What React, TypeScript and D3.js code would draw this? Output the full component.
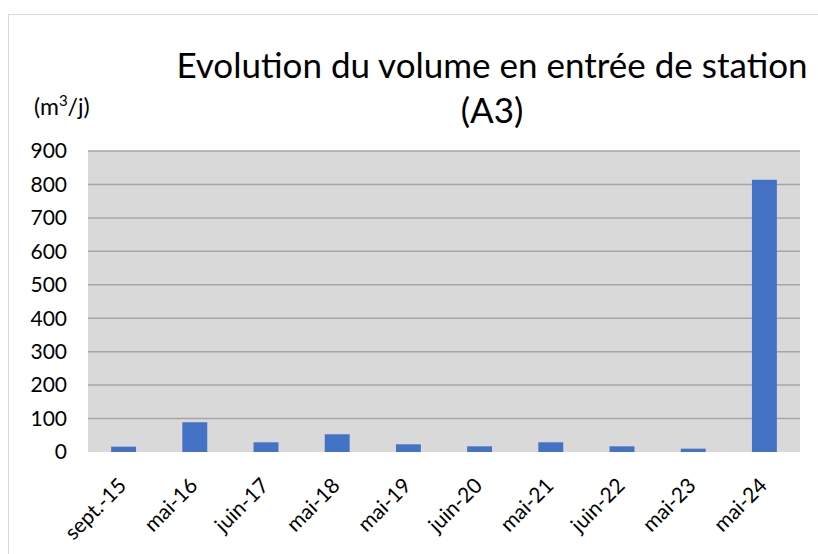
import * as d3 from "d3";

const categories = ["sept.-15", "mai-16", "juin-17", "mai-18", "mai-19", "juin-20", "mai-21", "juin-22", "mai-23", "mai-24"];
const volumes = [16, 89, 29, 53, 23, 17, 29, 17, 10, 814];
const yTicks = [0, 100, 200, 300, 400, 500, 600, 700, 800, 900];

const W = 818;
const H = 554;
const margin = { left: 88, right: 18, top: 151, bottom: 102 };
const FONT = "Lato, 'Open Sans', sans-serif";

export default function App() {
  const x = d3
    .scaleBand<string>()
    .domain(categories)
    .range([margin.left, W - margin.right])
    .paddingInner(0.65)
    .paddingOuter(0.325);
  const y = d3.scaleLinear().domain([0, 900]).range([H - margin.bottom, margin.top]);

  return (
    <div style={{ position: "fixed", left: 0, top: 0, width: W, height: H, background: "#fff" }}>
      <svg width={W} height={H} style={{ display: "block", fontFamily: FONT }}>
        <rect x={8.5} y={14.5} width={W + 10} height={H + 10} fill="#fff" stroke="#d9d9d9" />

        {/* title, two lines */}
        <text x={492} y={78} textAnchor="middle" fontSize={35} fill="#000">
          Evolution du volume en entrée de station
        </text>
        <text x={492} y={123} textAnchor="middle" fontSize={35} fill="#000">
          (A3)
        </text>
        <text x={34} y={115} fontSize={23} fill="#000">
          (m<tspan dy={-9} fontSize={15}>3</tspan>
          <tspan dy={9}>/j)</tspan>
        </text>

        <rect
          x={margin.left}
          y={margin.top}
          width={W - margin.right - margin.left}
          height={H - margin.bottom - margin.top}
          fill="#d9d9d9"
        />
        {yTicks.map((t) => (
          <g key={t}>
            {t > 0 && (
              <line
                x1={margin.left}
                x2={W - margin.right}
                y1={y(t)}
                y2={y(t)}
                stroke="#a6a6a6"
                strokeWidth={1.5}
              />
            )}
            <text x={67} y={y(t)} dy="0.35em" textAnchor="end" fontSize={21} fill="#000">
              {t}
            </text>
          </g>
        ))}

        {categories.map((c, i) => (
          <rect
            key={c}
            x={x(c)}
            y={y(volumes[i])}
            width={x.bandwidth()}
            height={y(0) - y(volumes[i])}
            fill="#4472c4"
          />
        ))}

        {/* rotated category labels */}
        {categories.map((c) => {
          const cx = (x(c) ?? 0) + x.bandwidth() / 2 + 4;
          const cy = y(0) + 35;
          return (
            <text
              key={c}
              transform={`translate(${cx},${cy}) rotate(-45)`}
              textAnchor="end"
              fontSize={21}
              fill="#000"
            >
              {c}
            </text>
          );
        })}
      </svg>
    </div>
  );
}
